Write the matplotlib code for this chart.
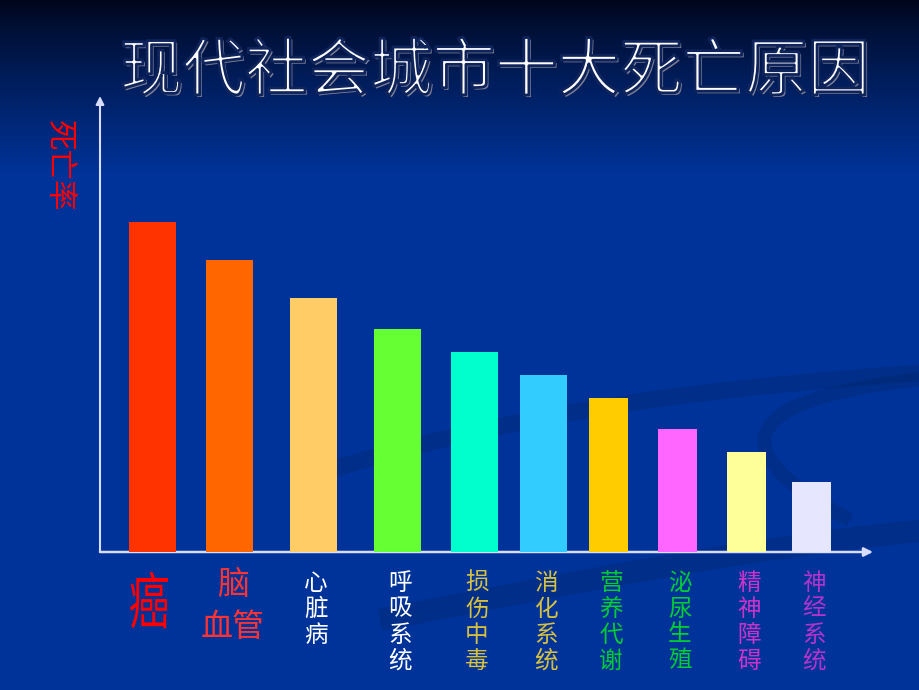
import numpy as np
import matplotlib
matplotlib.use('Agg')
import matplotlib.pyplot as plt
from matplotlib.textpath import TextPath
from matplotlib.font_manager import FontProperties
from matplotlib.patches import PathPatch
from matplotlib.transforms import Affine2D, blended_transform_factory
import matplotlib.patheffects as pe
from matplotlib.path import Path

plt.rcParams['font.family'] = ['Noto Sans CJK SC', 'DejaVu Sans']

# ---------------- data ----------------
title = '现代社会城市十大死亡原因'
ylabel = '死亡率'
categories = ['癌', '脑\n血管', '心\n脏\n病', '呼\n吸\n系\n统', '损\n伤\n中\n毒',
              '消\n化\n系\n统', '营\n养\n代\n谢', '泌\n尿\n生\n殖', '精\n神\n障\n碍', '神\n经\n系\n统']
death_rate = [330, 292, 254, 223, 200, 177, 154, 123, 100, 70]
bar_colors = ['#FF3300', '#FF6600', '#FFCC66', '#66FF33', '#00FFCC',
              '#33CCFF', '#FFCC00', '#FF66FF', '#FFFF99', '#E6E6FF']
label_colors = ['#FF0000', '#FF3333', '#FFFFFF', '#FFFFFF', '#D6C040',
                '#D6C040', '#00CC33', '#00CC33', '#CC33CC', '#B333CC']

# ---------------- layout ----------------
W, H = 920, 690
bar_centers = [153, 230, 314, 398, 475, 544, 609, 678, 747, 812]
bar_widths = [47] * 6 + [39] * 4
x0, x1 = 100, 873      # axis extent (px)
ybase, ytop = 552, 100

fig = plt.figure(figsize=(W / 100, H / 100), dpi=100)
bg = fig.add_axes([0, 0, 1, 1])
bg.set_xlim(0, W)
bg.set_ylim(H, 0)
bg.axis('off')

# background gradient
yy = np.arange(H)[:, None]
t = np.clip(yy / 175.0, 0, 1) ** 0.85
top = np.array([0, 6, 26]) / 255.0
bot = np.array([0, 51, 153]) / 255.0
img = top[None, None, :] + (bot - top)[None, None, :] * t[:, :, None]
img = np.repeat(img, 2, axis=1)
bg.imshow(img, extent=(0, W, H, 0), aspect='auto', zorder=0)

# faint decorative swooshes
def swoosh(verts, color, alpha, lw):
    codes = [Path.MOVETO] + [Path.CURVE4] * (len(verts) - 1)
    bg.add_patch(PathPatch(Path(verts, codes), facecolor='none', edgecolor=color,
                           lw=lw, alpha=alpha, zorder=1, capstyle='butt'))

swoosh([(330, 470), (560, 400), (760, 385), (930, 372)], '#00225e', 0.28, 12)
swoosh([(930, 378), (760, 395), (700, 440), (850, 520)], '#00225e', 0.28, 10)
swoosh([(380, 620), (560, 585), (760, 545), (930, 530)], '#00225e', 0.28, 16)

# data axes (data x == pixel x, data y == pixel height above baseline)
ax = fig.add_axes([x0 / W, (H - ybase) / H, (x1 - x0) / W, (ybase - ytop) / H])
ax.set_xlim(x0, x1)
ax.set_ylim(0, ybase - ytop)
ax.axis('off')
ax.patch.set_alpha(0)

ax.bar(bar_centers, death_rate, width=bar_widths, color=bar_colors, zorder=3,
       linewidth=0)

axis_col = '#D8DCFF'
ax.annotate('', xy=(x1, 0), xytext=(x0, 0), xycoords='data',
            arrowprops=dict(arrowstyle='-|>', color=axis_col, lw=1.8,
                            mutation_scale=13, shrinkA=0, shrinkB=0),
            annotation_clip=False, zorder=2)
ax.annotate('', xy=(x0, ybase - ytop + 4), xytext=(x0, 0), xycoords='data',
            arrowprops=dict(arrowstyle='-|>', color=axis_col, lw=1.5,
                            mutation_scale=12, shrinkA=0, shrinkB=0),
            annotation_clip=False, zorder=2)

# title (thin, embossed look)
bg.text(495, 72, title, fontsize=45, color='white', ha='center', va='center',
        fontweight='light', zorder=5,
        path_effects=[pe.withSimplePatchShadow(offset=(1.5, -1.5), shadow_rgbFace='#8a8a9a', alpha=0.9),
                      pe.Stroke(linewidth=2.0, foreground='#10245c'),
                      ])

# y label
bg.text(58, 166, ylabel, rotation=-90, color='#FF0000', fontsize=22,
        ha='center', va='center', zorder=5)

# category labels
trans = blended_transform_factory(ax.transData, bg.transData)
fp = FontProperties(family='Noto Sans CJK SC')
for i, (cat, col, xc) in enumerate(zip(categories, label_colors, bar_centers)):
    lines = cat.split('\n')
    if i == 0:
        # tall, narrow big character
        tp = TextPath((0, 0), lines[0], size=1, prop=fp)
        bb = tp.get_extents()
        px = ax.transData.transform((xc, 0))[0] - 4
        tr = (Affine2D().translate(-(bb.x0 + bb.width / 2), -(bb.y0 + bb.height / 2))
              .scale(38 / bb.width, -57 / bb.height).translate(px, 600))
        bg.add_patch(PathPatch(tr.transform_path(tp), facecolor=col, edgecolor='none',
                               zorder=5))
    elif i == 1:
        bg.text(xc + 3, 585, lines[0], transform=trans, color=col, fontsize=23,
                ha='center', va='center', zorder=5)
        bg.text(xc + 3, 627, lines[1], transform=trans, color=col, fontsize=23,
                ha='center', va='center', zorder=5)
    else:
        for j, ch in enumerate(lines):
            bg.text(xc + 2, 583 + 26 * j, ch, transform=trans, color=col, fontsize=17,
                    fontweight='light', ha='center', va='center', zorder=5)

fig.savefig('out.png', dpi=100)
